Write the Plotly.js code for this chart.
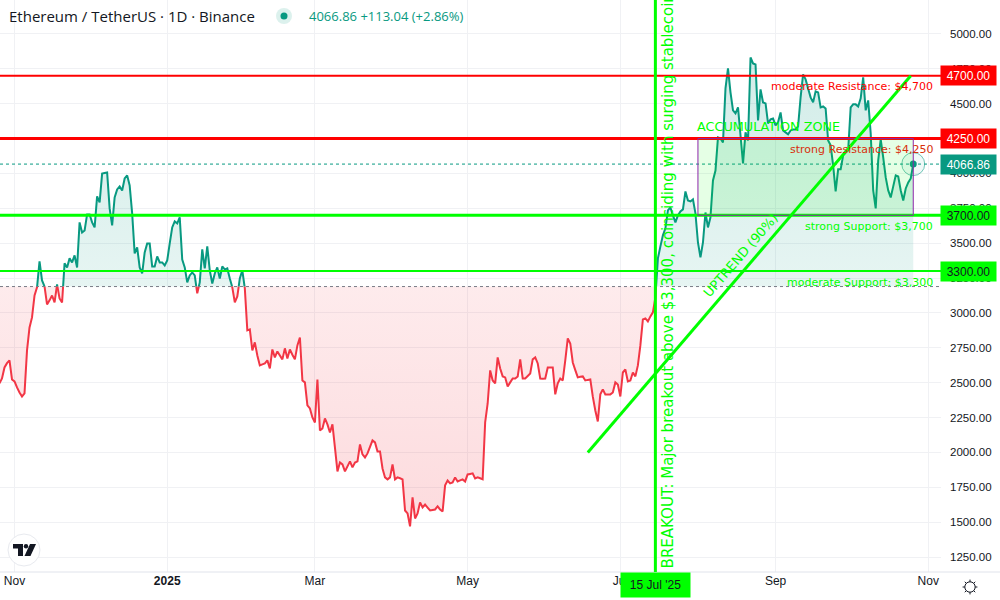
<!DOCTYPE html>
<html><head><meta charset="utf-8">
<script src="https://cdn.plot.ly/plotly-3.0.1.min.js"></script>
<style>html,body{margin:0;padding:0;background:#fff}#chart{width:1000px;height:600px}</style>
</head><body><div id="chart"></div>
<script>
const startDate = '2024-10-26';
const closes = [
2495,2530,2609,2640,2660,2523,2509,2466,2430,2401,
2423,2731,2896,2968,3125,3183,3369,3233,3190,3061,
3090,3125,3075,3204,3104,3075,3355,3326,3391,3362,
3412,3326,3649,3577,3591,3706,3706,3649,3613,3835,
3792,3999,4003,4007,3749,3627,3828,3885,3907,3878,
3964,3986,3914,3713,3426,3470,3326,3283,3434,3498,
3498,3333,3333,3405,3362,3362,3340,3376,3498,3613,
3656,3642,3685,3383,3326,3219,3269,3290,3269,3140,
3219,3455,3319,3477,3305,3211,3283,3326,3247,3333,
3312,3319,3247,3183,3075,3118,3247,3305,3176,2875,
2882,2731,2789,2695,2624,2631,2638,2660,2602,2738,
2681,2724,2695,2667,2746,2674,2738,2700,2667,2767,
2824,2516,2502,2337,2315,2251,2215,2523,2158,2172,
2244,2201,2143,2201,2035,1864,1928,1914,1864,1900,
1936,1893,1928,1936,2057,1986,1964,1993,2040,2086,
2072,2007,2007,1885,1821,1807,1821,1914,1807,1821,
1815,1807,1584,1563,1470,1678,1527,1563,1642,1606,
1627,1605,1584,1588,1591,1613,1591,1577,1764,1799,
1778,1785,1821,1792,1800,1807,1792,1842,1846,1850,
1814,1821,1815,1807,2215,2351,2588,2516,2495,2681,
2602,2545,2538,2473,2502,2530,2530,2545,2667,2530,
2530,2548,2566,2667,2681,2638,2530,2528,2530,2609,
2609,2609,2416,2495,2530,2516,2660,2817,2781,2645,
2590,2538,2542,2545,2516,2520,2523,2400,2301,2222,
2416,2452,2416,2416,2416,2430,2502,2487,2401,2573,
2595,2509,2516,2573,2545,2624,2767,2953,2961,2939,
2975,3004,3111,3391,3477,3556,3606,3735,3756,3699,
3649,3699,3728,3742,3871,3806,3799,3814,3713,3505,
3398,3505,3720,3613,3685,3950,4021,4258,4251,4222,
4609,4753,4581,4452,4430,4473,4272,4072,4294,4236,
4831,4788,4781,4380,4602,4509,4502,4358,4387,4394,
4344,4366,4437,4308,4294,4280,4308,4315,4315,4337,
4545,4710,4674,4609,4545,4509,4588,4581,4473,4480,
4466,4236,4201,4057,3871,4029,4029,4129,4150,4165,
4473,4495,4495,4480,4538,4688,4452,4523,4287,3878,
3749,4093,4244,4115,3971,3878,3828,3907,3986,3978,
3878,3806,3892,3935,3964,4066.86];

const baselinePrice = 3189;
const lastPrice = 4066.86;
const levels = [4700, 4250, 3700, 3300];
const levelNames = ['moderate Resistance: $4,700','strong Resistance: $4,250','strong Support: $3,700','moderate Support: $3,300'];
const xTickDates = ['2024-11-01','2025-01-01','2025-03-01','2025-05-01','2025-07-01','2025-09-01','2025-11-01'];
const xTickLabels = ['Nov','<b>2025</b>','Mar','May','Jul','Sep','Nov'];
const breakoutDate = '2025-07-15';
const boxDates = ['2025-08-01','2025-10-26'];
const trendDates = ['2025-06-18','2025-10-25'];
const trendPrices = [2000,4700];

const TEAL='#089981', RED='#F23645', LIME='#00ff00', PURE_RED='#ff0000', INK='#131722';
const W=1000,H=600,PW=941,PH=572;
const px=x=>x/PW, py=y=>1-y/PH;

const DAY=86400000;
const t0=Date.parse(startDate+'T00:00:00Z');
const times=closes.map((_,i)=>t0+i*DAY);
const toIso=t=>new Date(t).toISOString().slice(0,19).replace('T',' ');

// split the series at baseline crossings so the two colours meet on the baseline
const xs=[],ys=[];
closes.forEach((p,i)=>{
  if(i>0){const q=closes[i-1];
    if((q-baselinePrice)*(p-baselinePrice)<0){
      const f=(baselinePrice-q)/(p-q);
      xs.push(times[i-1]+f*DAY);ys.push(baselinePrice);
    }}
  xs.push(times[i]);ys.push(p);
});
const xd=xs.map(toIso);
const upFill=ys.map(v=>Math.max(v,baselinePrice));
const dnFill=ys.map(v=>Math.min(v,baselinePrice));
const upLine=ys.map((v,i)=>{const nb=(ys[i-1]>baselinePrice)||(ys[i+1]>baselinePrice);return v>baselinePrice||(v===baselinePrice&&nb)?v:null;});
const dnLine=ys.map((v,i)=>{const nb=(ys[i-1]<baselinePrice)||(ys[i+1]<baselinePrice);return v<baselinePrice||(v===baselinePrice&&nb)?v:null;});
const base=ys.map(()=>baselinePrice);

const common={x:xd,type:'scatter',mode:'lines',hoverinfo:'skip',showlegend:false};
const data=[
 {...common,y:base,line:{width:0}},
 {...common,y:upFill,line:{width:0},fill:'tonexty',fillcolor:'rgba(8,153,129,0.12)',
  fillgradient:{type:'vertical',start:baselinePrice,stop:4830,colorscale:[[0,'rgba(8,153,129,0.10)'],[1,'rgba(8,153,129,0.18)']]}},
 {...common,y:base,line:{width:0}},
 {...common,y:dnFill,line:{width:0},fill:'tonexty',fillcolor:'rgba(242,54,69,0.14)',
  fillgradient:{type:'vertical',start:baselinePrice,stop:1470,colorscale:[[0,'rgba(242,54,69,0.10)'],[1,'rgba(242,54,69,0.18)']]}},
 {...common,y:upLine,line:{color:TEAL,width:2,simplify:false}},
 {...common,y:dnLine,line:{color:RED,width:2,simplify:false}},
 {x:[toIso(times[times.length-1])],y:[lastPrice],type:'scatter',mode:'markers',hoverinfo:'skip',showlegend:false,
  marker:{size:23,color:'rgba(8,153,129,0.06)',line:{color:'rgba(8,153,129,0.55)',width:1}}},
 {x:[toIso(times[times.length-1])],y:[lastPrice],type:'scatter',mode:'markers',hoverinfo:'skip',showlegend:false,
  marker:{size:7,color:TEAL}}
];

const hline=(p,color,width,dash)=>({type:'line',xref:'paper',x0:0,x1:1,yref:'y',y0:p,y1:p,line:{color,width,dash:dash||'solid'}});
const circle=(cx,cy,r,fill,lineColor,lw)=>({type:'circle',xref:'paper',yref:'paper',x0:px(cx-r),x1:px(cx+r),y0:py(cy+r),y1:py(cy-r),
   fillcolor:fill,line:{color:lineColor||'rgba(0,0,0,0)',width:lw||0}});
const pline=(x0,y0,x1,y1,color,w)=>({type:'line',xref:'paper',yref:'paper',x0:px(x0),x1:px(x1),y0:py(y0),y1:py(y1),line:{color,width:w}});
const pathOf=pts=>'M'+pts.map(p=>px(p[0]).toFixed(5)+','+py(p[1]).toFixed(5)).join(' L')+' Z';
const fillPath=(pts,c)=>({type:'path',xref:'paper',yref:'paper',path:pathOf(pts),fillcolor:c,line:{width:0}});

const gear=[];
for(let a=0;a<8;a++){const r=a*Math.PI/4;
  gear.push(pline(970+5.2*Math.cos(r),587+5.2*Math.sin(r),970+7.4*Math.cos(r),587+7.4*Math.sin(r),INK,1));}

const shapes=[
 hline(baselinePrice,'#787b86',1,'dot'),
 hline(lastPrice,TEAL,1,'dot'),
 pline(0,572,1000,572,'#e0e3eb',1),
 hline(levels[0],PURE_RED,2),
 hline(levels[1],PURE_RED,3),
 hline(levels[2],LIME,3),
 hline(levels[3],LIME,2),
 {type:'rect',xref:'x',yref:'y',x0:boxDates[0],x1:boxDates[1],y0:levels[1],y1:levels[2],fillcolor:'rgba(0,255,0,0.1)',line:{color:'#8e24aa',width:1}},
 {type:'line',xref:'x',yref:'paper',x0:breakoutDate,x1:breakoutDate,y0:0,y1:1,line:{color:LIME,width:3}},
 {type:'line',xref:'x',yref:'y',x0:trendDates[0],x1:trendDates[1],y0:trendPrices[0],y1:trendPrices[1],line:{color:LIME,width:3}},
 circle(284,16,8,'rgba(8,153,129,0.14)'),
 circle(284,16,3.5,TEAL),
 circle(24,550,16,'#ffffff','#e8eaef',1),
 fillPath([[13,544],[23,544],[23,556],[18,556],[18,548.5],[13,548.5]],INK),
 circle(26,546.2,2.2,INK),
 fillPath([[30,544],[36,544],[30.5,556],[24.5,556]],INK),
 circle(970,587,5.2,'rgba(0,0,0,0)',INK,1),
 ...gear
];

const F='"DejaVu Sans"';
const AX='"Liberation Sans"';
const note=(o)=>Object.assign({showarrow:false,font:{family:F,size:12,color:LIME}},o);
const tag=(p,txt,bg,fg)=>({xref:'paper',yref:'y',x:px(968.5),y:p,xanchor:'center',yanchor:'middle',text:txt,showarrow:false,
   bgcolor:bg,width:55,height:19,borderpad:0,font:{family:AX,size:12,color:fg}});
const levelColors=[PURE_RED,'#d8300c',LIME,LIME];
const levelShift=[-11,-11,-11,-11];
const annotations=[
 note({xref:'paper',yref:'paper',x:px(7),y:py(16),xanchor:'left',yanchor:'middle',text:'Ethereum / TetherUS · 1D · Binance',font:{family:'"Open Sans"',size:15,color:INK}}),
 note({xref:'paper',yref:'paper',x:px(307),y:py(16),xanchor:'left',yanchor:'middle',text:'4066.86 +113.04 (+2.86%)',font:{family:'"Open Sans"',size:13,color:TEAL}}),
 ...levels.map((p,i)=>note({xref:'paper',yref:'y',x:px(935),y:p,yshift:levelShift[i],xanchor:'right',yanchor:'middle',text:levelNames[i],font:{family:F,size:11,color:levelColors[i]}})),
 note({xref:'x',yref:'y',x:boxDates[0],xshift:-3,y:levels[1],yshift:12,xanchor:'left',yanchor:'middle',text:'ACCUMULATION ZONE',font:{family:F,size:12.8,color:LIME}}),
 note({xref:'x',yref:'paper',x:breakoutDate,xshift:12.5,y:py(570),xanchor:'center',yanchor:'bottom',textangle:-90,text:'BREAKOUT: Major breakout above $3,300, coinciding with surging stablecoin',font:{family:F,size:15,color:LIME}}),
 note({xref:'x',yref:'y',x:'2025-08-18',y:3412,xanchor:'center',yanchor:'middle',textangle:-49,text:'UPTREND (90%)',font:{family:F,size:13,color:LIME}}),
 tag(levels[0],'4700.00',PURE_RED,'#ffffff'),
 tag(levels[1],'4250.00',PURE_RED,'#ffffff'),
 tag(levels[2],'3700.00',LIME,'#131722'),
 tag(levels[3],'3300.00',LIME,'#131722'),
 tag(lastPrice,'4066.86',TEAL,'#ffffff'),
 {xref:'x',yref:'paper',x:breakoutDate,y:0,xanchor:'center',yanchor:'top',text:"15 Jul '25",showarrow:false,bgcolor:LIME,width:69,height:24,borderpad:0,font:{family:AX,size:12,color:'#131722'}}
];

const layout={
 width:W,height:H,margin:{l:0,r:59,t:0,b:28,pad:0},paper_bgcolor:'#ffffff',plot_bgcolor:'#ffffff',showlegend:false,
 xaxis:{type:'date',range:['2024-10-26 05:00','2025-11-06 02:00'],tickmode:'array',tickvals:xTickDates,ticktext:xTickLabels,ticks:'',
   showgrid:true,gridcolor:'#f0f1f4',gridwidth:1,zeroline:false,showline:false,tickfont:{family:AX,size:12,color:INK}},
 yaxis:{side:'right',range:[1143,5243],dtick:250,tick0:0,tickformat:'.2f',ticks:'',showgrid:true,gridcolor:'#f0f1f4',gridwidth:1,
   zeroline:false,showline:false,ticklabelstandoff:8,tickfont:{family:AX,size:11.5,color:INK}},
 shapes,annotations
};
Plotly.newPlot('chart',data,layout,{displayModeBar:false,staticPlot:true});
</script></body></html>
